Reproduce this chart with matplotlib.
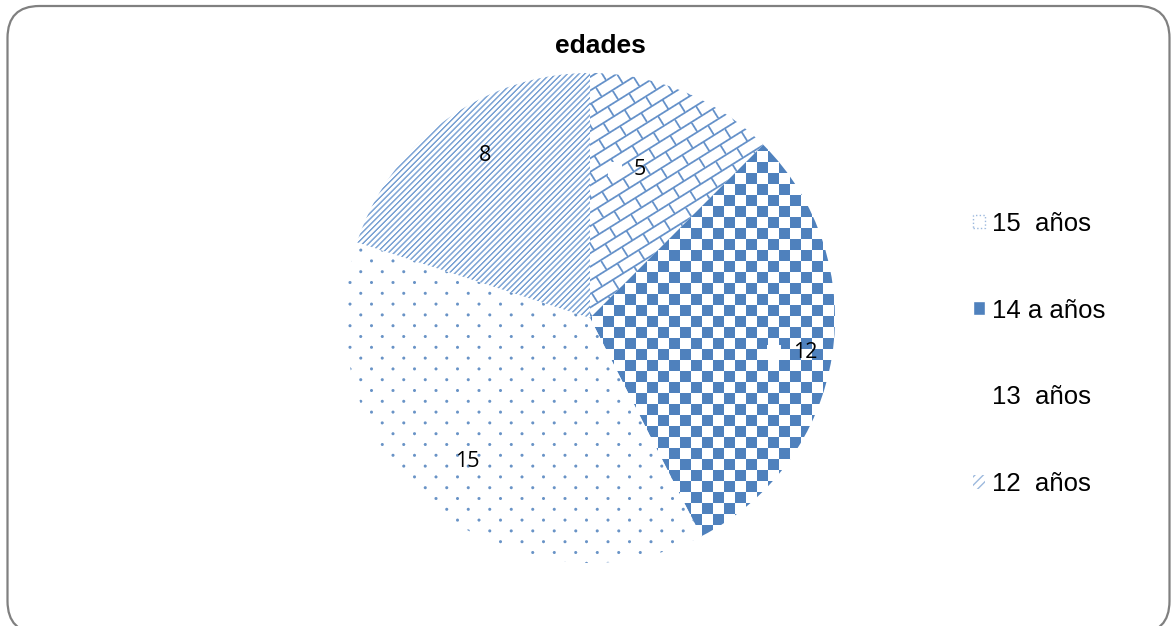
import numpy as np
import matplotlib
matplotlib.use("Agg")
import matplotlib.pyplot as plt
from matplotlib.patches import FancyBboxPatch, Rectangle, Patch

# Datos
categorias = ["15  años", "14 a años", "13  años", "12  años"]
valores = [5, 12, 15, 8]
titulo = "edades"

azul = "#4F81BD"
azul_claro = "#9DB9DE"

W, H = 1171, 626
fig = plt.figure(figsize=(W / 100, H / 100), dpi=100)

# marco redondeado (en pulgadas)
marco = FancyBboxPatch((0.075, -0.07), 11.62, 6.27,
                       boxstyle="round,pad=0,rounding_size=0.32",
                       transform=fig.dpi_scale_trans, fill=False,
                       edgecolor="#808080", linewidth=1.6)
fig.patches.append(marco)

# ejes del pastel (1 unidad = R pixeles)
R = 245
cx, cy = 590, H - 318
half = 262
ax = fig.add_axes([(cx - half) / W, (cy - half) / H, 2 * half / W, 2 * half / H])
lim = half / R

wedges, _ = ax.pie(valores, startangle=90, counterclock=False,
                   colors=["white"] * 4, wedgeprops=dict(linewidth=0),
                   radius=1, center=(0, 0), frame=False)
ax.set_xlim(-lim, lim)
ax.set_ylim(-lim, lim)
ax.set_aspect("equal")
ax.axis("off")

# texturas en pixeles
n = 2 * half
px = np.arange(n)
X, Y = np.meshgrid(px, px)


def to_rgba(m, color):
    c = np.array(matplotlib.colors.to_rgb(color))
    img = np.ones((n, n, 4))
    m = np.clip(m, 0, 1)
    for k in range(3):
        img[..., k] = 1 - m * (1 - c[k])
    return img


def linea(t, per, ancho):
    # intensidad suave de lineas periodicas
    d = np.abs(((t + per / 2) % per) - per / 2)
    return np.clip(ancho / 2 + 0.5 - d, 0, 1)


def ladrillos():
    th = np.deg2rad(32)
    u = X * np.cos(th) + Y * np.sin(th)
    v = -X * np.sin(th) + Y * np.cos(th)
    h, w = 11.5, 25.0
    fila = np.floor(v / h)
    off = (fila % 2) * w / 2
    m = np.maximum(linea(v, h, 1.8), linea(u + off, w, 1.8))
    return to_rgba(m * 0.85, "#4A7EC0")


def tablero():
    s = 11.0
    m = ((np.floor(X / s) + np.floor(Y / s)) % 2) == 0
    return to_rgba(m.astype(float), azul)


def puntos():
    sx, sy = 21.5, 10.8
    fila = np.floor(Y / sy)
    xo = (X + (fila % 2) * sx / 2) % sx
    yo = Y % sy
    d = np.hypot(xo - sx / 2, yo - sy / 2)
    m = np.clip(2.0 - d, 0, 1) * 0.85
    return to_rgba(m, azul)


def rayas():
    p = 5.8
    m = linea(X - Y, p, 2.2) * 0.8
    return to_rgba(m, "#5F8FCB")


texturas = [ladrillos(), tablero(), puntos(), rayas()]
for wdg, tex in zip(wedges, texturas):
    im = ax.imshow(tex, extent=(-lim, lim, -lim, lim), origin="lower",
                   interpolation="nearest", zorder=2)
    im.set_clip_path(wdg)

# etiquetas de datos con clave de leyenda
dist_etq = [0.64, 0.89, 0.77, 0.79]
giro_etq = [4, 0, 0, -3]
claves = ["white", "white", None, None]
fs_etq = 15.5
for wdg, val, d, g, kc in zip(wedges, valores, dist_etq, giro_etq, claves):
    ang = np.deg2rad((wdg.theta1 + wdg.theta2) / 2 + g)
    x, y = d * np.cos(ang), d * np.sin(ang)
    ax.text(x, y, str(val), ha="center", va="center", fontsize=fs_etq,
            family="Open Sans", zorder=5)
    if kc is None:
        continue
    # clave colocada en pixeles a la izquierda de la etiqueta
    px0, py0 = ax.transData.transform((x, y))
    medio = len(str(val)) * 0.57 * fs_etq * 100 / 72 / 2
    clave = Rectangle((px0 - medio - 26, py0 - 8), 14, 15, facecolor=kc,
                      edgecolor="none", transform=None, zorder=4)
    fig.patches.append(clave)

fig.text(600 / W, 1 - 46 / H, titulo, ha="center", va="center",
         fontsize=19, fontweight="bold", family="Liberation Sans")

# leyenda
handles = [
    Patch(facecolor="white", edgecolor=azul_claro, linestyle=":", linewidth=1),
    Patch(facecolor=azul, edgecolor="white"),
    Patch(facecolor="white", edgecolor="white"),
    Patch(facecolor="white", edgecolor=azul_claro, hatch="////", linewidth=0),
]
fig.legend(handles, categorias, loc="center left",
           bbox_to_anchor=(950 / W, 1 - 354 / H), frameon=False,
           prop=dict(family="Liberation Sans", size=18.5),
           handlelength=0.45, handleheight=0.45, handletextpad=0.3,
           labelspacing=2.45)

fig.savefig("out.png", dpi=100)
